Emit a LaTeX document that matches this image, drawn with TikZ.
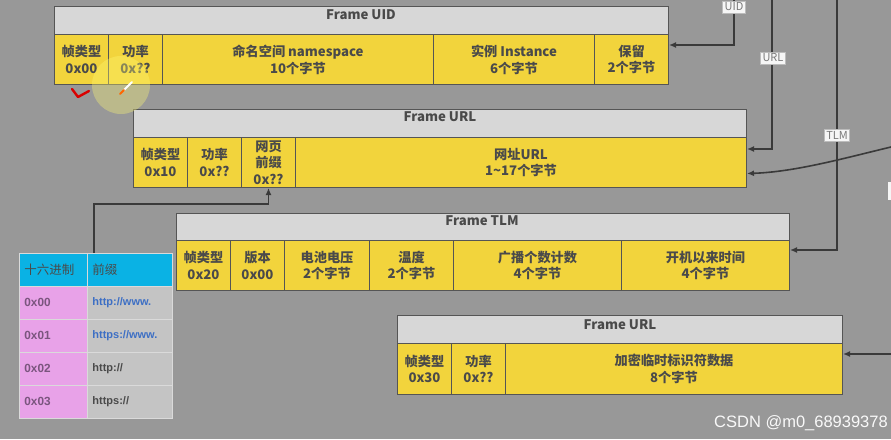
\documentclass[tikz,border=0pt]{standalone}
\usepackage{fontspec}
\setmainfont{Noto Sans CJK SC}
\newfontfamily\wm{Liberation Sans}
\usetikzlibrary{arrows.meta,calc}
\definecolor{bgc}{HTML}{989898}
\definecolor{hdr}{HTML}{D7D7D7}
\definecolor{ylw}{HTML}{F2D43C}
\definecolor{bdr}{HTML}{555555}
\definecolor{txt}{HTML}{4A4A4A}
\definecolor{lnc}{HTML}{3A3A3A}
\definecolor{cyanh}{HTML}{0AB2E4}
\definecolor{pinkc}{HTML}{E8A2E8}
\definecolor{grayc}{HTML}{C4C4C4}
\definecolor{pinkt}{HTML}{7A557E}
\definecolor{bluet}{HTML}{3D6FC4}
\definecolor{lblt}{HTML}{7A7A7A}
\definecolor{tgrid}{HTML}{DADADA}
\pgfdeclarelayer{bg}\pgfdeclarelayer{lines}\pgfsetlayers{bg,lines,main}
\tikzset{
  cell/.style={draw=bdr, line width=1pt, fill=ylw, anchor=north west, inner sep=0pt,
    align=center, font=\bfseries\fontsize{13.2}{16.8}\selectfont, text=txt, minimum height=50pt},
  hbox/.style={draw=bdr, line width=1pt, fill=hdr, anchor=north west, inner sep=0pt, minimum height=28pt},
  ttl/.style={font=\bfseries\fontsize{13.2}{15}\selectfont, text=txt, inner sep=0pt},
  arr/.style={draw=lnc, line width=1.6pt, -{Latex[length=7pt,width=6pt]}},
  lbl/.style={fill=white!93!gray, draw=lblt!50, line width=0.6pt, text=lblt,
    font=\fontsize{11}{13}\selectfont, inner sep=2pt},
  tcell/.style={anchor=north west, inner xsep=5pt, inner ysep=0pt, minimum height=33pt,
    draw=tgrid, line width=0.8pt, align=left},
  tl/.style={tcell, fill=pinkc, text width=58pt, text=pinkt, font=\wm\bfseries\fontsize{11.8}{13}\selectfont},
  tr/.style={tcell, fill=grayc, text width=75pt, font=\wm\bfseries\fontsize{11}{13}\selectfont},
}
\begin{document}
\begin{tikzpicture}[x=1pt,y=-1pt]
\useasboundingbox (0,0) rectangle (891,439);
\begin{pgfonlayer}{bg}
\fill[bgc] (0,0) rectangle (891,439);
\fill[white!92!gray] (888,182) rectangle (891,200);
\end{pgfonlayer}

% Frame UID
\node[hbox, minimum width=614pt] (uidH) at (54,6) {};
\node[ttl] (uidT) at (361,15) {Frame UID};
\node[cell, minimum width=54pt] (uid1) at (54,34) {帧类型\\0x00};
\node[cell, minimum width=54pt] (uid2) at (108,34) {功率\\0x??};
\node[cell, minimum width=271pt] (uid3) at (162,34) {命名空间 namespace\\10个字节};
\node[cell, minimum width=161pt] (uid4) at (433,34) {实例 Instance\\6个字节};
\node[cell, minimum width=74pt] (uid5) at (594,34) {保留\\2个字节};

% Frame URL
\node[hbox, minimum width=613pt] (urlH) at (133,109) {};
\node[ttl] (urlT) at (440,117) {Frame URL};
\node[cell, minimum width=54pt] (url1) at (133,137) {帧类型\\0x10};
\node[cell, minimum width=54pt] (url2) at (187,137) {功率\\0x??};
\node[cell, minimum width=54pt, font=\bfseries\fontsize{13.2}{16.5}\selectfont] (url3) at (241,137) {网页\\前缀\\0x??};
\node[cell, minimum width=451pt] (url4) at (295,137) {网址URL\\1\textasciitilde17个字节};

% Frame TLM
\node[hbox, minimum width=613pt, minimum height=27pt] (tlmH) at (176,213) {};
\node[ttl] (tlmT) at (482,221) {Frame TLM};
\node[cell, minimum width=54pt] (tlm1) at (176,240) {帧类型\\0x20};
\node[cell, minimum width=54pt] (tlm2) at (230,240) {版本\\0x00};
\node[cell, minimum width=85pt] (tlm3) at (284,240) {电池电压\\2个字节};
\node[cell, minimum width=84pt] (tlm4) at (369,240) {温度\\2个字节};
\node[cell, minimum width=168pt] (tlm5) at (453,240) {广播个数计数\\4个字节};
\node[cell, minimum width=168pt] (tlm6) at (621,240) {开机以来时间\\4个字节};

% Frame URL (EID)
\node[hbox, minimum width=445pt] (eidH) at (397,315) {};
\node[ttl] (eidT) at (620,325) {Frame URL};
\node[cell, minimum width=54pt, minimum height=51pt] (eid1) at (397,343) {帧类型\\0x30};
\node[cell, minimum width=54pt, minimum height=51pt] (eid2) at (451,343) {功率\\0x??};
\node[cell, minimum width=337pt, minimum height=51pt] (eid3) at (505,343) {加密临时标识符数据\\8个字节};

% prefix table
\node[tl, fill=cyanh, text=txt, font=\fontsize{12.5}{13}\selectfont] (th1) at (19,253) {十六进制};
\node[tr, fill=cyanh, text=txt, font=\fontsize{12.5}{13}\selectfont] (th2) at (87,253) {前缀};
\node[tl] (ta1) at (19,286) {0x00};
\node[tr, text=bluet] (tb1) at (87,286) {http://www.};
\node[tl] (ta2) at (19,319) {0x01};
\node[tr, text=bluet] (tb2) at (87,319) {https://www.};
\node[tl] (ta3) at (19,352) {0x02};
\node[tr, text=txt] (tb3) at (87,352) {http://};
\node[tl] (ta4) at (19,385) {0x03};
\node[tr, text=txt] (tb4) at (87,385) {https://};

% side labels
\node[lbl] (uidL) at (734,7) {UID};
\node[lbl] (urlL) at (773,58) {URL};
\node[lbl] (tlmL) at (837,135) {TLM};
\coordinate (uidTop) at (734,0);
\coordinate (urlTop) at (772,0);
\coordinate (tlmTop) at (837,0);
\coordinate (curveStart) at (891,147);
\coordinate (eidStart) at (891,354);

\begin{pgfonlayer}{lines}
\draw[arr] (uidTop) |- ([yshift=-11pt]uid5.north east);
\draw[arr] (urlTop) |- ([yshift=-12pt]url4.north east);
\draw[arr] (tlmTop) |- ([yshift=-10pt]tlm6.north east);
\draw[arr] (curveStart) .. controls (845,158) and (795,172) .. ([yshift=-11pt]url4.east);
\draw[arr] (eidStart) -- ([yshift=-11pt]eid3.north east);
\draw[arr] ([xshift=7pt]th2.north west) -- ++(0,-49) -| (url3.south);
\end{pgfonlayer}

% screen annotations
\fill[yellow!55!white, opacity=0.35] (121,85) circle (29pt);
\draw[red!85!black, line width=2.4pt, line cap=round, line join=round] (72,89) -- (78,97) -- (89,91);
\draw[white, line width=1.8pt, line cap=round] (132,82) -- (124,90);
\draw[orange!80!red, line width=1.8pt, line cap=round] (124,90) -- (120,94);

% watermark
\node[text=white!95!gray, font=\wm\fontsize{16.5}{18}\selectfont, anchor=east, inner sep=0pt] (wmk) at (888,423) {CSDN @m0\_68939378};
\end{tikzpicture}
\end{document}
